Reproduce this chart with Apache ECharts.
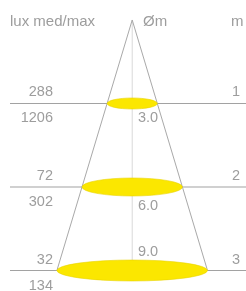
<!DOCTYPE html>
<html>
<head>
<meta charset="utf-8">
<script src="https://cdn.jsdelivr.net/npm/echarts@6/dist/echarts.min.js"></script>
<style>
html,body{margin:0;padding:0;background:#fff;}
#c{width:246px;height:291px;}
</style>
</head>
<body>
<div id="c"></div>
<script>
// ---- data ----
var distances = [1, 2, 3];            // m
var diameters = [3.0, 6.0, 9.0];      // Øm
var luxMed = [288, 72, 32];
var luxMax = [1206, 302, 134];
var headers = ['lux med/max', 'Øm', 'm'];

// ---- style ----
var FONT = '"Liberation Sans", Arial, sans-serif';
var TXT = '#9d9d9d';
var FS = 14.5;
var ellipseRy = [5.5, 9, 10.5];
var diamLabelDy = [15, 19, -19];
var levelLineX0 = 10, levelLineX1 = 246;
var leftLabelX = 53, diamLabelX = 138, distLabelX = 240;

var chart = echarts.init(document.getElementById('c'), null, {renderer: 'canvas'});

var levelData = distances.map(function (d, i) {
  return [diameters[i], d, luxMed[i], luxMax[i], i];
});

function levelLines(params, api) {
  var y = api.coord([0, api.value(1)])[1];
  return {
    type: 'line',
    shape: {x1: levelLineX0, y1: y, x2: levelLineX1, y2: y},
    style: {stroke: '#a2a2a2', lineWidth: 1.2}
  };
}

function cone(params, api) {
  var apex = api.coord([0, 0]);
  var n = distances.length - 1;
  var L = api.coord([-diameters[n] / 2, distances[n]]);
  var R = api.coord([diameters[n] / 2, distances[n]]);
  var C = api.coord([0, distances[n]]);
  return {
    type: 'group',
    children: [
      {type: 'line', shape: {x1: apex[0], y1: apex[1], x2: C[0], y2: C[1]},
        style: {stroke: '#d9d9d9', lineWidth: 1}},
      {type: 'line', shape: {x1: apex[0], y1: apex[1], x2: L[0], y2: L[1]},
        style: {stroke: '#a9a9a9', lineWidth: 1}},
      {type: 'line', shape: {x1: apex[0], y1: apex[1], x2: R[0], y2: R[1]},
        style: {stroke: '#a9a9a9', lineWidth: 1}}
    ]
  };
}

function ellipses(params, api) {
  var i = api.value(4);
  var c = api.coord([0, api.value(1)]);
  var rx = api.size([api.value(0), 0])[0] / 2;
  var ry = ellipseRy[i];
  return {
    type: 'circle',
    x: c[0], y: c[1],
    scaleY: ry / rx,
    shape: {cx: 0, cy: 0, r: rx},
    style: {fill: '#fbe700', stroke: '#e8d200', lineWidth: 1, strokeNoScale: true}
  };
}

function labels(params, api) {
  var i = api.value(4);
  var y = api.coord([0, api.value(1)])[1];
  var base = {fill: TXT, fontSize: FS, fontFamily: FONT, verticalAlign: 'middle'};
  return {
    type: 'group',
    children: [
      {type: 'text', x: leftLabelX, y: y - 11,
        style: Object.assign({text: String(api.value(2)), align: 'right'}, base)},
      {type: 'text', x: leftLabelX, y: y + 15,
        style: Object.assign({text: String(api.value(3)), align: 'right'}, base)},
      {type: 'text', x: diamLabelX, y: y + diamLabelDy[i],
        style: Object.assign({text: api.value(0).toFixed(1), align: 'left'}, base)},
      {type: 'text', x: distLabelX, y: y - 11,
        style: Object.assign({text: String(api.value(1)), align: 'right'}, base)}
    ]
  };
}

chart.setOption({
  animation: false,
  backgroundColor: '#ffffff',
  grid: {left: 0, right: 0, top: 0, bottom: 0},
  xAxis: {type: 'value', min: -7.9, max: 6.8, show: false},
  yAxis: {type: 'value', inverse: true, min: -0.2395, max: 3.2455, show: false},
  graphic: [
    {type: 'text', left: 10, top: 14, style: {text: headers[0], fill: TXT, fontSize: 15, fontFamily: FONT}},
    {type: 'text', left: 143, top: 14, style: {text: headers[1], fill: TXT, fontSize: 15, fontFamily: FONT}},
    {type: 'text', left: 231, top: 14, style: {text: headers[2], fill: TXT, fontSize: 15, fontFamily: FONT}}
  ],
  series: [
    {type: 'custom', renderItem: levelLines, data: levelData, z: 1, silent: true},
    {type: 'custom', renderItem: cone, data: [[0, 0]], z: 2, silent: true},
    {type: 'custom', renderItem: ellipses, data: levelData, z: 3, silent: true},
    {type: 'custom', renderItem: labels, data: levelData, z: 4, silent: true}
  ]
});
</script>
</body>
</html>
